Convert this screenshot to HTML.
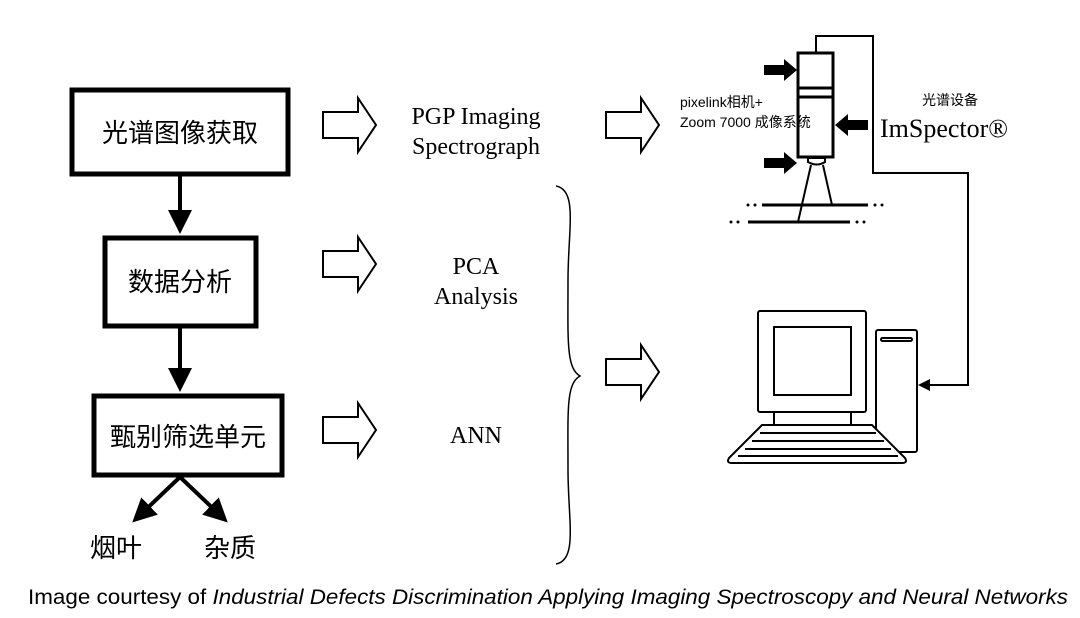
<!DOCTYPE html>
<html><head><meta charset="utf-8"><style>
body{margin:0;background:#fff;width:1080px;height:618px;overflow:hidden}
svg{display:block}
.cn{font-family:"Liberation Sans","Noto Sans CJK SC",sans-serif}
.sf{font-family:"Liberation Serif",serif}
</style></head><body>
<svg width="1080" height="618" viewBox="0 0 1080 618" xmlns="http://www.w3.org/2000/svg">
<defs>
<marker id="ah" markerWidth="6" markerHeight="6" refX="4" refY="3" orient="auto" markerUnits="strokeWidth"><path d="M0,0 L6,3 L0,6 z" fill="#000"/></marker>
<g id="ha"><path d="M0,-13 H35 V-27 L53,0 L35,27 V13 H0 Z" fill="#fff" stroke="#000" stroke-width="2"/></g>
</defs>
<rect x="72" y="90" width="216" height="84" fill="#fff" stroke="#000" stroke-width="5"/>
<text x="180" y="142" text-anchor="middle" class="cn" font-size="26">光谱图像获取</text>
<rect x="105" y="238" width="151" height="88" fill="#fff" stroke="#000" stroke-width="5"/>
<text x="180" y="291" text-anchor="middle" class="cn" font-size="26">数据分析</text>
<rect x="94" y="396" width="188" height="79" fill="#fff" stroke="#000" stroke-width="5"/>
<text x="188" y="446" text-anchor="middle" class="cn" font-size="26">甄别筛选单元</text>
<line x1="180" y1="176" x2="180" y2="226" stroke="#000" stroke-width="4" marker-end="url(#ah)"/>
<line x1="180" y1="328" x2="180" y2="384" stroke="#000" stroke-width="4" marker-end="url(#ah)"/>
<line x1="180" y1="477" x2="138" y2="517" stroke="#000" stroke-width="4" marker-end="url(#ah)"/>
<line x1="180" y1="477" x2="222" y2="517" stroke="#000" stroke-width="4" marker-end="url(#ah)"/>
<text x="116" y="557" text-anchor="middle" class="cn" font-size="26">烟叶</text>
<text x="230" y="557" text-anchor="middle" class="cn" font-size="26">杂质</text>
<use href="#ha" x="323" y="125"/>
<use href="#ha" x="323" y="264"/>
<use href="#ha" x="323" y="430"/>
<use href="#ha" x="606" y="125"/>
<use href="#ha" x="606" y="372"/>
<text x="476" y="124" text-anchor="middle" class="sf" font-size="24">PGP Imaging</text>
<text x="476" y="154" text-anchor="middle" class="sf" font-size="24">Spectrograph</text>
<text x="476" y="274" text-anchor="middle" class="sf" font-size="24">PCA</text>
<text x="476" y="304" text-anchor="middle" class="sf" font-size="24">Analysis</text>
<text x="476" y="443" text-anchor="middle" class="sf" font-size="24">ANN</text>
<path d="M556,186 C578,190 568,230 568,280 C568,340 566,368 580,376 C566,384 568,410 568,470 C568,520 578,560 556,564" fill="none" stroke="#000" stroke-width="1.5"/>
<polyline points="816,53 816,36 873,36 873,173 968,173 968,385 928,385" fill="none" stroke="#000" stroke-width="2"/>
<path d="M918,385 L930,379 L930,391 z" fill="#000"/>
<rect x="798" y="53" width="35" height="104" fill="none" stroke="#000" stroke-width="3"/>
<line x1="798" y1="88" x2="833" y2="88" stroke="#000" stroke-width="3"/>
<line x1="798" y1="97" x2="833" y2="97" stroke="#000" stroke-width="3"/>
<path d="M808,158 h17 v4 q-8,5 -17,0 z" fill="none" stroke="#000" stroke-width="2"/>
<path d="M764,65 h20 v-6 l13,11 l-13,11 v-6 h-20 z" fill="#000"/>
<path d="M764,158 h20 v-6 l13,11 l-13,11 v-6 h-20 z" fill="#000"/>
<path d="M868,120 h-20 v-6 l-13,11 l13,11 v-6 h20 z" fill="#000"/>
<line x1="811" y1="165" x2="798" y2="222" stroke="#000" stroke-width="2"/>
<line x1="823" y1="165" x2="832" y2="205" stroke="#000" stroke-width="2"/>
<line x1="762" y1="205" x2="868" y2="205" stroke="#000" stroke-width="3"/>
<line x1="748" y1="222" x2="850" y2="222" stroke="#000" stroke-width="3"/>
<g fill="#000"><circle cx="748" cy="205" r="1.5"/><circle cx="755" cy="205" r="1.5"/><circle cx="875" cy="205" r="1.5"/><circle cx="882" cy="205" r="1.5"/>
<circle cx="731" cy="222" r="1.5"/><circle cx="738" cy="222" r="1.5"/><circle cx="857" cy="222" r="1.5"/><circle cx="864" cy="222" r="1.5"/></g>
<text x="680" y="107" class="cn" font-size="14">pixelink相机+</text>
<text x="680" y="127" class="cn" font-size="14">Zoom 7000 成像系统</text>
<text x="950" y="105" text-anchor="middle" class="cn" font-size="14">光谱设备</text>
<text x="880" y="137" class="sf" font-size="26">ImSpector®</text>
<g fill="none" stroke="#000" stroke-width="2">
<rect x="758" y="311" width="108" height="101" rx="2"/>
<rect x="774" y="327" width="77" height="68"/>
<line x1="774" y1="412" x2="774" y2="425"/><line x1="851" y1="412" x2="851" y2="425"/>
<rect x="876" y="330" width="41" height="122" rx="2"/>
<rect x="881" y="338" width="31" height="3" rx="1.5"/>
<path d="M762,425 H872 L905,458 Q908,463 902,463 H732 Q726,463 729,458 Z" fill="#fff"/>
<line x1="760" y1="433" x2="876" y2="433"/>
<line x1="752" y1="441" x2="884" y2="441"/>
<line x1="745" y1="449" x2="891" y2="449"/>
<line x1="738" y1="456" x2="898" y2="456"/>
</g>
<text x="28" y="604" class="cn" font-size="21" textLength="1040" lengthAdjust="spacingAndGlyphs">Image courtesy of <tspan font-style="italic">Industrial Defects Discrimination Applying  Imaging Spectroscopy and Neural Networks</tspan></text>
</svg>
</body></html>
